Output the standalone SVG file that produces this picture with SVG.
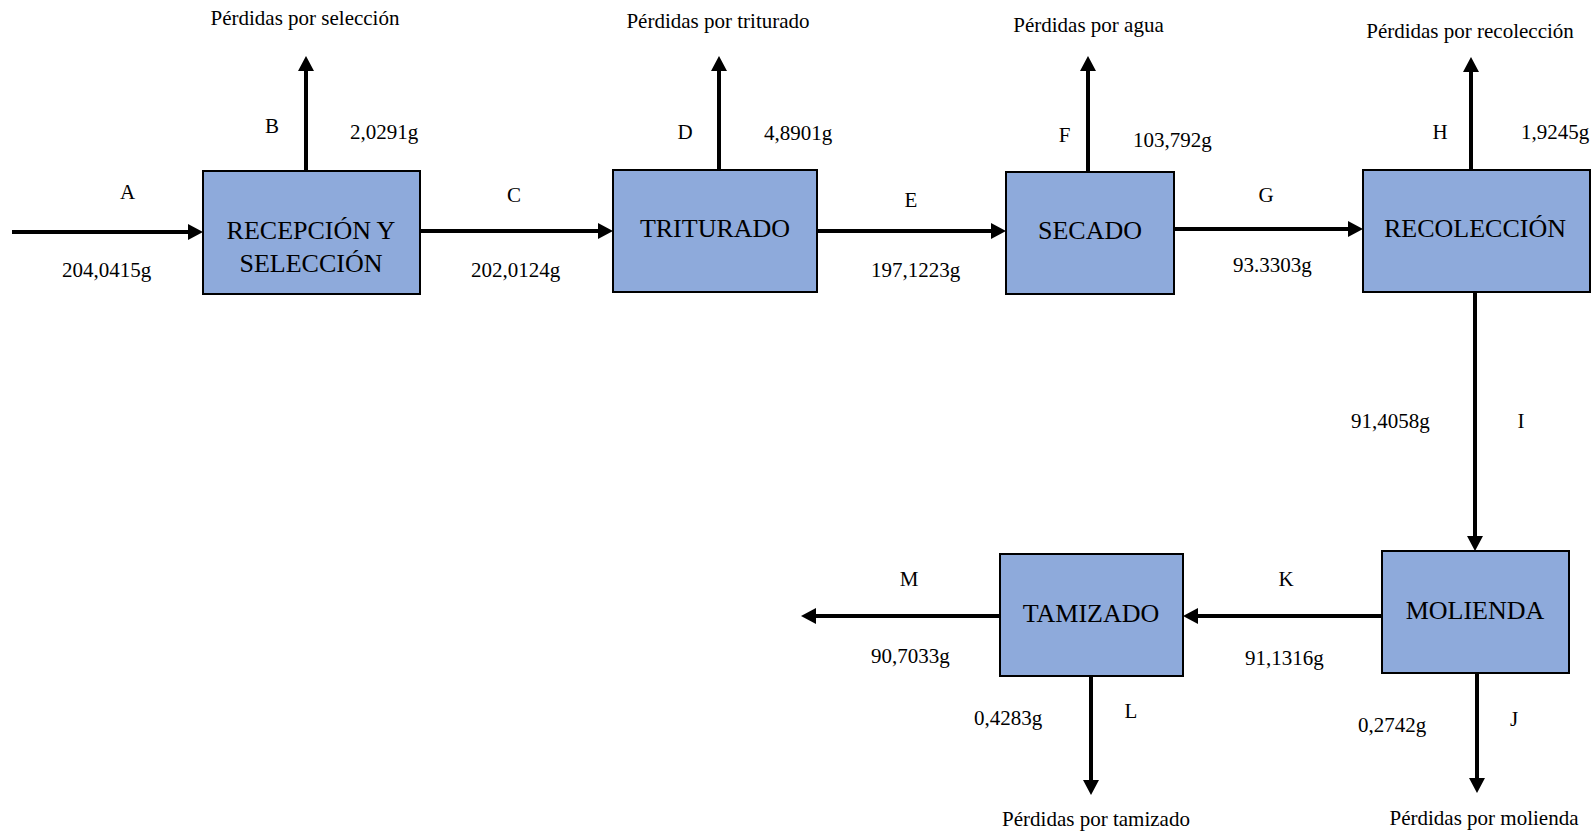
<svg xmlns="http://www.w3.org/2000/svg" width="1595" height="835" viewBox="0 0 1595 835">
<style>
.box{fill:#8EAADB;stroke:#000;stroke-width:2}
.bt{font-family:"Liberation Serif","Times New Roman",serif;font-size:26px;fill:#000;text-anchor:middle}
.t{font-family:"Liberation Serif","Times New Roman",serif;font-size:21px;fill:#000}
.m{text-anchor:middle}
.c{stroke:#000;stroke-width:4;fill:none;marker-end:url(#ah)}
</style>
<defs>
<marker id="ah" markerUnits="userSpaceOnUse" markerWidth="16" markerHeight="16" refX="3" refY="8" orient="auto">
<path d="M0,0 L15,8 L0,16 z" fill="#000"/>
</marker>
</defs>
<rect width="1595" height="835" fill="#fff"/>
<g id="connectors">
<line class="c" x1="12" y1="232" x2="191" y2="232"/>
<line class="c" x1="306" y1="171" x2="306" y2="68"/>
<line class="c" x1="420" y1="231" x2="601" y2="231"/>
<line class="c" x1="719" y1="170" x2="719" y2="68"/>
<line class="c" x1="817" y1="231" x2="994" y2="231"/>
<line class="c" x1="1088" y1="172" x2="1088" y2="68"/>
<line class="c" x1="1174" y1="229" x2="1351" y2="229"/>
<line class="c" x1="1471" y1="170" x2="1471" y2="69"/>
<line class="c" x1="1475" y1="292" x2="1475" y2="539"/>
<line class="c" x1="1477" y1="673" x2="1477" y2="781"/>
<line class="c" x1="1382" y1="616" x2="1195" y2="616"/>
<line class="c" x1="1091" y1="676" x2="1091" y2="783"/>
<line class="c" x1="1000" y1="616" x2="813" y2="616"/>
</g>
<g id="labels">
<text class="t m" x="305" y="25">Pérdidas por selección</text>
<text class="t m" x="272" y="133">B</text>
<text class="t" x="350" y="139">2,0291g</text>
<text class="t m" x="127.5" y="199">A</text>
<text class="t" x="62" y="277">204,0415g</text>
<text class="t m" x="514" y="202">C</text>
<text class="t" x="471" y="277">202,0124g</text>
<text class="t m" x="718" y="28">Pérdidas por triturado</text>
<text class="t m" x="685" y="139">D</text>
<text class="t" x="764" y="140">4,8901g</text>
<text class="t m" x="911" y="207">E</text>
<text class="t" x="871" y="277">197,1223g</text>
<text class="t m" x="1088.5" y="32">Pérdidas por agua</text>
<text class="t m" x="1064.5" y="142">F</text>
<text class="t" x="1133" y="147">103,792g</text>
<text class="t m" x="1266" y="202">G</text>
<text class="t" x="1233" y="272">93.3303g</text>
<text class="t m" x="1470" y="38">Pérdidas por recolección</text>
<text class="t m" x="1440" y="139">H</text>
<text class="t" x="1521" y="139">1,9245g</text>
<text class="t" x="1351" y="428">91,4058g</text>
<text class="t m" x="1521" y="428">I</text>
<text class="t" x="1358" y="732">0,2742g</text>
<text class="t m" x="1514" y="726">J</text>
<text class="t m" x="1484" y="825">Pérdidas por molienda</text>
<text class="t m" x="1286" y="586">K</text>
<text class="t" x="1245" y="665">91,1316g</text>
<text class="t" x="974" y="725">0,4283g</text>
<text class="t m" x="1131" y="718">L</text>
<text class="t m" x="1096" y="826">Pérdidas por tamizado</text>
<text class="t m" x="909" y="586">M</text>
<text class="t" x="871" y="663">90,7033g</text>
</g>
<g id="recepcion">
<rect class="box" x="203" y="171" width="217" height="123"/>
<text class="bt" x="311" y="239">RECEPCIÓN Y</text>
<text class="bt" x="311" y="272">SELECCIÓN</text>
</g>
<g id="triturado">
<rect class="box" x="613" y="170" width="204" height="122"/>
<text class="bt" x="715" y="237">TRITURADO</text>
</g>
<g id="secado">
<rect class="box" x="1006" y="172" width="168" height="122"/>
<text class="bt" x="1090" y="239">SECADO</text>
</g>
<g id="recoleccion">
<rect class="box" x="1363" y="170" width="227" height="122"/>
<text class="bt" x="1475" y="237">RECOLECCIÓN</text>
</g>
<g id="molienda">
<rect class="box" x="1382" y="551" width="187" height="122"/>
<text class="bt" x="1475" y="619">MOLIENDA</text>
</g>
<g id="tamizado">
<rect class="box" x="1000" y="554" width="183" height="122"/>
<text class="bt" x="1091" y="622">TAMIZADO</text>
</g>
</svg>
